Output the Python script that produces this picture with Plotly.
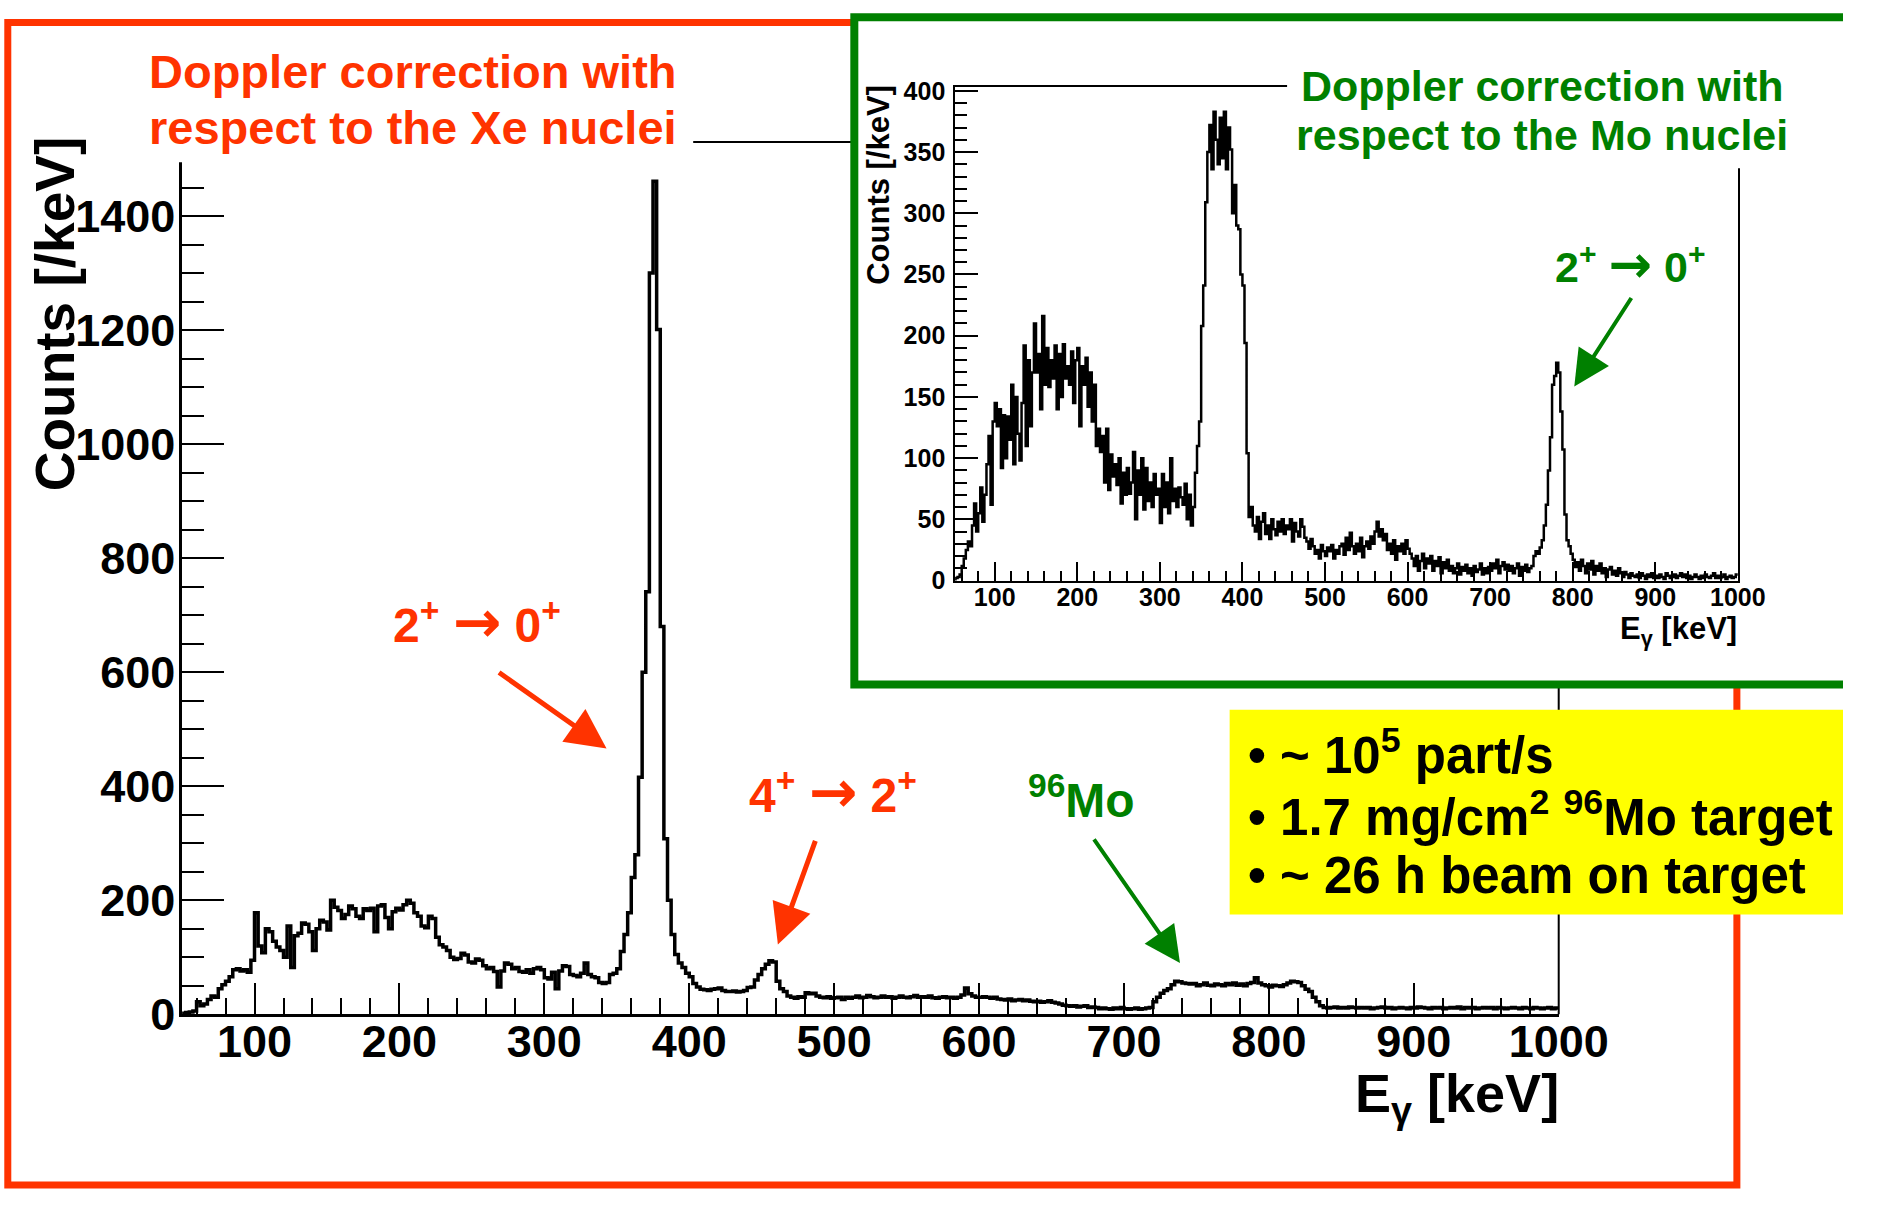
import plotly.graph_objects as go

W, H = 1893, 1215
FONT = "Liberation Sans, Arial, Helvetica, sans-serif"
RED = "#FF3300"
GREEN = "#008000"

# ---------------- data (2.5 keV bins from 50 to 1000 keV) ----------------
bin_start = 50.0
bin_width = 2.5

# Doppler correction for Xe (main spectrum), counts per bin
main_counts = [
    2, 3, 4, 6, 22, 15, 18, 26, 32, 30,            # 50-75
    45, 52, 58, 66, 78, 80, 76, 78, 74, 95,        # 75-100
    178, 120, 108, 150, 145, 128, 118, 112, 100, 155,  # 100-125
    82, 138, 142, 160, 158, 145, 112, 150, 165, 162,   # 125-150
    148, 200, 188, 182, 168, 175, 190, 185, 172, 168,  # 150-175
    185, 182, 186, 145, 190, 192, 170, 150, 180, 186,  # 175-200
    183, 192, 200, 195, 178, 172, 155, 152, 172, 168,  # 200-225
    135, 122, 118, 112, 100, 96, 98, 107, 104, 92,     # 225-250
    90, 97, 95, 85, 80, 82, 75, 48, 76, 90,            # 250-275
    88, 80, 82, 75, 74, 78, 72, 80, 82, 78,            # 275-300
    64, 62, 74, 45, 76, 85, 84, 70, 68, 66,            # 300-325
    72, 90, 70, 66, 64, 56, 54, 56, 70, 72,            # 325-350
    80, 110, 140, 178, 240, 280, 416, 600, 741, 1300,  # 350-375
    1461, 1201, 680, 308, 200, 140, 105, 90, 82, 72,   # 375-400
    66, 54, 48, 44, 43, 42, 44, 45, 46, 42,            # 400-425
    40, 40, 41, 39, 40, 42, 47, 48, 60, 70,            # 425-450
    80, 88, 94, 92, 58, 45, 40, 32, 30, 28,            # 450-475
    31, 30, 38, 36, 37, 32, 30, 29, 31, 28,            # 475-500
    29, 30, 26, 30, 28, 30, 32, 29, 30, 33,            # 500-525
    31, 29, 30, 32, 30, 31, 28, 30, 32, 30,            # 525-550
    29, 31, 33, 30, 31, 30, 32, 29, 28, 30,            # 550-575
    31, 29, 30, 28, 30, 34, 46, 36, 32, 30,            # 575-600
    30, 31, 30, 28, 30, 27, 26, 25, 27, 24,            # 600-625
    25, 26, 24, 25, 23, 22, 23, 21, 22, 24,            # 625-650
    21, 20, 18, 16, 15, 14, 15, 13, 14, 15,            # 650-675
    12, 13, 12, 10, 11, 10, 9, 11, 10, 12,             # 675-700
    10, 9, 10, 11, 9, 10, 11, 12, 22, 30,              # 700-725
    37, 42, 45, 52, 58, 57, 55, 54, 53, 54,            # 725-750
    50, 52, 55, 51, 50, 53, 52, 50, 54, 52,            # 750-775
    55, 51, 53, 50, 54, 56, 64, 55, 52, 50,            # 775-800
    48, 51, 50, 49, 52, 55, 58, 57, 56, 50,            # 800-825
    44, 40, 30, 22, 15, 12, 11, 12, 13, 11,            # 825-850
    12, 11, 13, 12, 11, 12, 11, 12, 10, 11,            # 850-875
    12, 13, 11, 12, 10, 11, 12, 11, 10, 12,            # 875-900
    11, 13, 12, 11, 10, 12, 11, 12, 10, 11,            # 900-925
    12, 11, 13, 10, 12, 11, 12, 10, 11, 12,            # 925-950
    11, 12, 10, 12, 11, 10, 11, 12, 11, 10,            # 950-975
    12, 11, 10, 12, 11, 10, 11, 12, 10, 11,            # 975-1000
]

# Doppler correction for Mo (inset spectrum), counts per bin
inset_counts = [
    0, 2, 3, 5, 12, 18, 25, 32, 28, 45,                # 50-75
    63, 40, 55, 76, 48, 70, 95, 118, 62, 130,          # 75-100
    145, 126, 140, 92, 135, 100, 134, 115, 160, 95,    # 100-125
    150, 120, 98, 145, 192, 110, 180, 126, 170, 210,   # 125-150
    170, 185, 140, 216, 160, 190, 158, 180, 165, 192,  # 150-175
    140, 185, 150, 193, 165, 175, 160, 187, 145, 180,  # 175-200
    190, 126, 175, 160, 182, 142, 170, 130, 160, 110,  # 200-225
    124, 105, 118, 80, 124, 74, 103, 85, 95, 78,       # 225-250
    100, 63, 88, 70, 92, 71, 80, 105, 50, 90,          # 250-275
    70, 100, 58, 92, 65, 80, 60, 87, 70, 75,           # 275-300
    47, 87, 60, 80, 55, 100, 65, 75, 60, 76,           # 300-325
    68, 62, 79, 50, 70, 45, 60, 88, 110, 130,          # 325-350
    208, 241, 309, 350, 372, 336, 383, 360, 340, 378,  # 350-375
    345, 383, 336, 370, 352, 300, 323, 290, 287, 250,  # 375-400
    241, 194, 104, 52, 60, 45, 40, 52, 34, 48,         # 400-425
    55, 38, 45, 34, 50, 42, 37, 48, 40, 50,            # 425-450
    38, 45, 42, 50, 32, 47, 40, 36, 50, 44,            # 450-475
    35, 32, 26, 34, 28, 22, 25, 18, 29, 24,            # 475-500
    20, 27, 24, 29, 18, 25, 22, 28, 30, 21,            # 500-525
    35, 25, 39, 28, 22, 30, 24, 35, 19, 28,            # 525-550
    32, 26, 36, 30, 40, 48, 36, 42, 33, 38,            # 550-575
    25, 30, 22, 33, 17, 28, 24, 30, 22, 33,            # 575-600
    26, 22, 18, 12, 20, 8, 16, 22, 10, 18,             # 600-625
    14, 20, 8, 16, 12, 19, 6, 15, 10, 17,              # 625-650
    8, 12, 6, 10, 14, 5, 11, 8, 13, 6,                 # 650-675
    10, 4, 12, 7, 9, 14, 5, 10, 6, 11,                 # 675-700
    8, 14, 10, 17, 6, 12, 15, 9, 13, 8,                # 700-725
    12, 6, 10, 14, 4, 11, 8, 13, 7, 10,                # 725-750
    12, 20, 24, 22, 27, 33, 45, 62, 90, 117,           # 750-775
    160, 167, 178, 170, 138, 107, 54, 33, 28, 22,      # 775-800
    17, 11, 15, 8, 17, 12, 6, 14, 9, 16,               # 800-825
    5, 12, 8, 14, 6, 10, 3, 9, 11, 5,                  # 825-850
    8, 4, 10, 6, 3, 7, 5, 2, 6, 4,                     # 850-875
    3, 5, 2, 6, 4, 1, 5, 3, 6, 2,                      # 875-900
    4, 2, 5, 3, 1, 6, 4, 2, 3, 5,                      # 900-925
    2, 4, 6, 3, 5, 2, 4, 1, 3, 5,                      # 925-950
    3, 1, 4, 2, 5, 3, 2, 4, 6, 2,                      # 950-975
    4, 2, 3, 5, 1, 3, 4, 2, 3, 5,                      # 975-1000
]

main_xticks = [100, 200, 300, 400, 500, 600, 700, 800, 900, 1000]
main_yticks = [0, 200, 400, 600, 800, 1000, 1200, 1400]
inset_yticks = [0, 50, 100, 150, 200, 250, 300, 350, 400]

# ---------------- build step curves ----------------
def step_xy(counts):
    xs = [bin_start + bin_width * i for i in range(len(counts) + 1)]
    ys = list(counts) + [counts[-1]]
    return xs, ys

mx, my = step_xy(main_counts)
ix, iy = step_xy(inset_counts)

fig = go.Figure()
fig.add_trace(go.Scatter(x=mx, y=my, mode="lines", xaxis="x", yaxis="y",
                         line=dict(color="black", width=3.5, shape="hv"),
                         showlegend=False, hoverinfo="skip"))
fig.add_trace(go.Scatter(x=ix, y=iy, mode="lines", xaxis="x2", yaxis="y2",
                         line=dict(color="black", width=2.5, shape="hv"),
                         showlegend=False, hoverinfo="skip"))

def PX(x):
    return x / W

def PY(y):
    return 1 - y / H

tick_font_main = dict(family=FONT, size=45, color="black", weight="bold")
tick_font_inset = dict(family=FONT, size=25, color="black", weight="bold")

fig.update_layout(
    width=W, height=H, autosize=False,
    margin=dict(l=0, r=0, t=0, b=0),
    paper_bgcolor="white",
    plot_bgcolor="rgba(0,0,0,0)",
    showlegend=False,
    xaxis=dict(domain=[PX(187), PX(1601)], range=[50, 1000.01], anchor="y",
               showgrid=False, zeroline=False, showline=True, linecolor="black", linewidth=2.5,
               ticks="inside", ticklen=32, tickwidth=2, tickcolor="black",
               tickvals=main_xticks, tickfont=tick_font_main, ticklabelstandoff=-14,
               minor=dict(ticks="inside", ticklen=17, dtick=20, tick0=0, tickwidth=2, tickcolor="black")),
    yaxis=dict(domain=[PY(1035), PY(136)], range=[0, 1530], anchor="x",
               showgrid=False, zeroline=False, showline=True, linecolor="black", linewidth=2.5,
               ticks="inside", ticklen=42, tickwidth=2, tickcolor="black",
               tickvals=main_yticks, tickfont=tick_font_main, ticklabelstandoff=-5,
               minor=dict(ticks="inside", ticklen=22, dtick=50, tick0=0, tickwidth=2, tickcolor="black")),
    xaxis2=dict(domain=[PX(981), PX(1785)], range=[52, 1000.01], anchor="y2",
                showgrid=False, zeroline=False, showline=True, mirror=True, linecolor="black", linewidth=1.5,
                ticks="inside", ticklen=19, tickwidth=1.5, tickcolor="black",
                tickvals=main_xticks, tickfont=tick_font_inset, ticklabelstandoff=-6,
                minor=dict(ticks="inside", ticklen=10, dtick=20, tick0=0, tickwidth=1.5, tickcolor="black")),
    yaxis2=dict(domain=[PY(588), PY(79.5)], range=[0, 403], anchor="x2",
                showgrid=False, zeroline=False, showline=True, mirror=True, linecolor="black", linewidth=1.5,
                ticks="inside", ticklen=23, tickwidth=1.5, tickcolor="black",
                tickvals=inset_yticks, tickfont=tick_font_inset, ticklabelstandoff=3,
                minor=dict(ticks="inside", ticklen=12, dtick=10, tick0=0, tickwidth=1.5, tickcolor="black")),
)

shapes = []
# red outer frame
shapes.append(dict(type="rect", xref="paper", yref="paper", layer="below",
                   x0=PX(8), x1=PX(1784), y0=PY(1211), y1=PY(13),
                   line=dict(color=RED, width=7), fillcolor="rgba(0,0,0,0)"))
# main plot frame (top + right)
shapes.append(dict(type="line", xref="paper", yref="paper", layer="below",
                   x0=PX(187), x1=PX(1601), y0=PY(136), y1=PY(136),
                   line=dict(color="black", width=2)))
shapes.append(dict(type="line", xref="paper", yref="paper", layer="below",
                   x0=PX(1601), x1=PX(1601), y0=PY(136), y1=PY(1035),
                   line=dict(color="black", width=2)))
# inset box (white fill) and its green border (right side is off the page)
shapes.append(dict(type="rect", xref="paper", yref="paper", layer="below",
                   x0=PX(877.5), x1=1, y0=PY(695), y1=PY(7.6),
                   line=dict(width=0), fillcolor="white"))
shapes.append(dict(type="path", xref="paper", yref="paper", layer="below",
                   path="M 1,{b} L {l},{b} L {l},{t} L 1,{t}".format(l=PX(877.5), b=PY(695), t=PY(7.6)),
                   line=dict(color=GREEN, width=8)))
# white backgrounds of the title texts
shapes.append(dict(type="rect", xref="paper", yref="paper", layer="above",
                   x0=PX(150), x1=PX(712), y0=PY(157), y1=PY(20),
                   line=dict(width=0), fillcolor="white"))
shapes.append(dict(type="rect", xref="paper", yref="paper", layer="above",
                   x0=PX(1322), x1=PX(1880), y0=PY(163), y1=PY(20),
                   line=dict(width=0), fillcolor="white"))
# yellow info box
shapes.append(dict(type="rect", xref="paper", yref="paper", layer="above",
                   x0=PX(1263), x1=1, y0=PY(932), y1=PY(721),
                   line=dict(width=0), fillcolor="#FFFF00"))
fig.update_layout(shapes=shapes)

def txt(x, y, s, size, color, xanchor="center", yanchor="middle", angle=0):
    fig.add_annotation(x=PX(x), y=PY(y), xref="paper", yref="paper", text=s,
                       showarrow=False, xanchor=xanchor, yanchor=yanchor, textangle=angle,
                       font=dict(family=FONT, size=size, color=color))

def arrow(tail, tip, color, width, size):
    fig.add_annotation(x=PX(tip[0]), y=PY(tip[1]), xref="paper", yref="paper",
                       ax=tail[0] - tip[0], ay=tail[1] - tip[1], axref="pixel", ayref="pixel",
                       text="", showarrow=True, arrowhead=2, arrowsize=size, arrowwidth=width,
                       arrowcolor=color, standoff=0, startstandoff=0)

def ARW(px):
    return "<span style='font-family:DejaVu Sans;font-weight:bold;font-size:%dpx'>→</span>" % px

# titles
txt(424, 63, "<b>Doppler correction with</b>", 47, RED)
txt(424, 121, "<b>respect to the Xe nuclei</b>", 47, RED)
txt(1584, 78, "<b>Doppler correction with</b>", 43, GREEN)
txt(1584, 129, "<b>respect to the Mo nuclei</b>", 43, GREEN)

# axis titles
txt(56, 314, "<b>Counts [/keV]</b>", 55, "black", angle=-90)
txt(1603, 1120, "<b>E<sub>γ</sub> [keV]</b>", 54, "black", xanchor="right")
txt(903, 180, "<b>Counts [/keV]</b>", 31, "black", angle=-90)
txt(1786, 640, "<b>E<sub>γ</sub> [keV]</b>", 31, "black", xanchor="right")

# transition labels
txt(490, 631, "<b>2<sup>+</sup> " + ARW(58) + " 0<sup>+</sup></b>", 48, RED)
txt(856, 806, "<b>4<sup>+</sup> " + ARW(58) + " 2<sup>+</sup></b>", 48, RED)
txt(1111, 811, "<b><sup>96</sup>Mo</b>", 48, GREEN)
txt(1674, 262, "<b>2<sup>+</sup> " + ARW(52) + " 0<sup>+</sup></b>", 43, GREEN)

# arrows
arrow((514, 684), (623, 761), RED, 5, 1.6)
arrow((837, 858), (799, 963), RED, 5, 1.6)
arrow((1125, 857), (1212, 982), GREEN, 4, 1.8)
arrow((1675, 298), (1617, 388), GREEN, 4, 1.8)

# info box text
txt(1280, 765, "<b>• ~ 10<sup>5</sup> part/s</b>", 51, "black", xanchor="left")
txt(1280, 829, "<b>• 1.7 mg/cm<sup>2</sup> <sup>96</sup>Mo target</b>", 51, "black", xanchor="left")
txt(1280, 892, "<b>• ~ 26 h beam on target</b>", 51, "black", xanchor="left")

page_fit = (
    "document.documentElement.style.cssText+='margin:0;padding:0;overflow:hidden;';"
    "document.body.style.cssText+='margin:0;padding:0;overflow:hidden;';"
)
fig.write_html("out.html", post_script=page_fit)
